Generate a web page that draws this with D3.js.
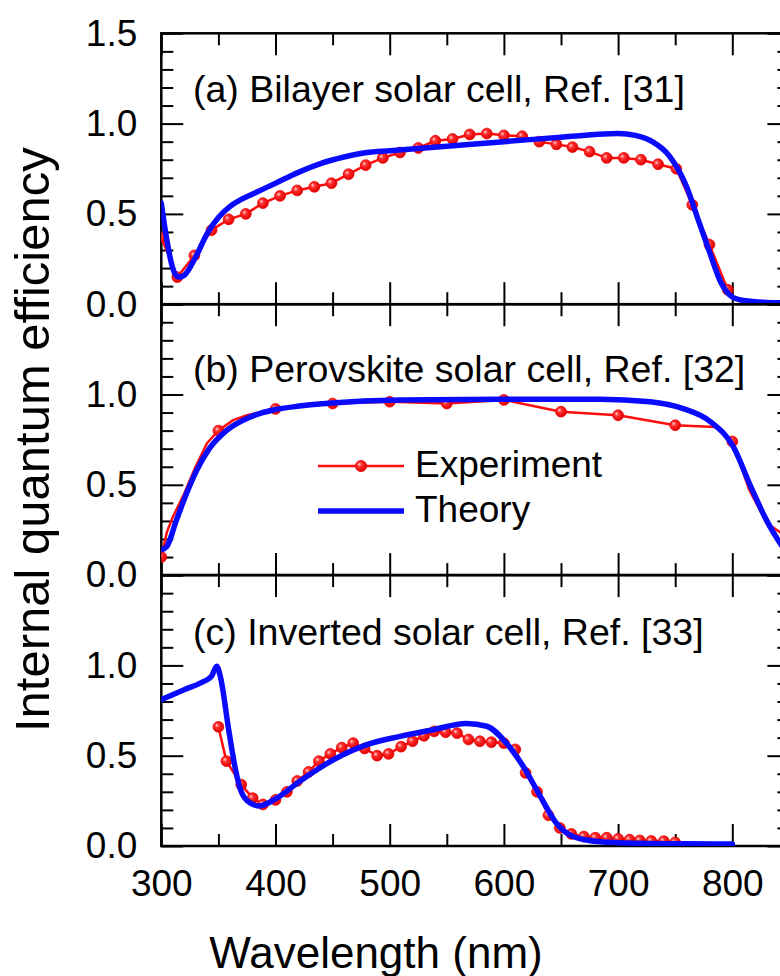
<!DOCTYPE html>
<html><head><meta charset="utf-8">
<script src="https://cdn.jsdelivr.net/npm/d3@7"></script>
<style>html,body{margin:0;padding:0;background:#fff;} svg{display:block;}</style>
</head><body>
<svg id="chart" width="780" height="976"></svg>
<script>
// ---------- data ----------
const xTickValues = [300, 400, 500, 600, 700, 800];
const xMinorValues = [350, 450, 550, 650, 750, 850];
const yTickValues = [0, 0.5, 1.0, 1.5];
const panelLabels = ["(a) Bilayer solar cell, Ref. [31]", "(b) Perovskite solar cell, Ref. [32]", "(c) Inverted solar cell, Ref. [33]"];
const legendLabels = ["Experiment", "Theory"];
const xTitle = "Wavelength (nm)";
const yTitle = "Internal quantum efficiency";

// Panel (a)
const theoryA_wl  = [300,305,310,315,320,330,340,350,360,370,380,400,420,440,460,480,500,550,600,650,680,700,715,730,745,760,770,780,790,800,810,830,850];
const theoryA_iqe = [0.56,0.35,0.20,0.15,0.16,0.26,0.39,0.48,0.54,0.58,0.61,0.67,0.73,0.78,0.815,0.84,0.85,0.875,0.90,0.925,0.94,0.945,0.935,0.90,0.82,0.65,0.47,0.29,0.12,0.04,0.02,0.01,0.008];
const expA_wl  = [300,314,329,344,359,374,389,404,419,434,449,464,479,494,509,525,540,555,570,585,600,616,631,646,660,675,690,705,720,735,751,765,780,796];
const expA_iqe = [0.37,0.15,0.27,0.41,0.47,0.50,0.56,0.60,0.63,0.65,0.67,0.72,0.77,0.81,0.84,0.865,0.905,0.915,0.94,0.945,0.935,0.93,0.90,0.885,0.87,0.845,0.81,0.81,0.80,0.775,0.75,0.55,0.33,0.08];

// Panel (b)
const theoryB_wl  = [300,305,313,322,331,342,357,378,398,421,450,509,596,684,728,757,781,801,815,830,850];
const theoryB_iqe = [0.14,0.16,0.30,0.45,0.58,0.70,0.80,0.876,0.914,0.936,0.953,0.969,0.974,0.974,0.96,0.922,0.849,0.71,0.507,0.303,0.10];
const expB_wl  = [300,305,310,320,330,340,350,363,375,400,450,500,550,600,650,700,750,785,800,815,830,850];
const expB_iqe = [0.10,0.24,0.32,0.45,0.60,0.73,0.80,0.858,0.885,0.92,0.95,0.96,0.95,0.97,0.905,0.885,0.83,0.82,0.74,0.47,0.29,0.20];
const expB_markers = [300,350,400,450,500,550,600,650,700,750,800,850];

// Panel (c)
const theoryC_wl  = [300,320,335,344,348.5,352,359,365,370,378,386,401,421,451,480,509,538,567,585,602,617,632,646,661,684,720,760,800];
const theoryC_iqe = [0.81,0.865,0.905,0.94,0.995,0.93,0.644,0.422,0.30,0.237,0.222,0.265,0.357,0.478,0.561,0.607,0.644,0.678,0.663,0.571,0.44,0.274,0.126,0.052,0.024,0.015,0.012,0.011];
const expC_wl  = [350,357,370,380,389,400,410,419,429,438,448,458,468,478,489,499,510,520,530,539,549,559,569,579,589,600,610,619,629,639,649,659,670,680,690,700,710,719,729,740,750];
const expC_iqe = [0.66,0.47,0.34,0.265,0.23,0.255,0.30,0.36,0.41,0.47,0.51,0.545,0.57,0.54,0.50,0.51,0.55,0.58,0.61,0.635,0.63,0.625,0.59,0.58,0.575,0.57,0.535,0.405,0.30,0.17,0.10,0.067,0.052,0.046,0.046,0.04,0.035,0.031,0.028,0.027,0.02];

(function () {
// ---------- layout ----------
const svg = d3.select("#chart");
const FONT = "'Liberation Sans', Arial, sans-serif";
const leftX = 161.3, rightX = 789.4, topY = 33.3, panelH = 270.9;
const RED = "#ff0d0d", BLUE = "#0a0aff";

const x = d3.scaleLinear().domain([300, 850]).range([leftX, rightX]);

const defs = svg.append("defs");
const grad = defs.append("radialGradient").attr("id", "ball").attr("cx", "40%").attr("cy", "40%").attr("r", "60%").attr("fx", "35%").attr("fy", "35%");
grad.append("stop").attr("offset", "0%").attr("stop-color", "#ffd0d0");
grad.append("stop").attr("offset", "35%").attr("stop-color", "#ff3030");
grad.append("stop").attr("offset", "100%").attr("stop-color", "#e00000");

const panels = [
  {tw: theoryA_wl, tv: theoryA_iqe, ew: expA_wl, ev: expA_iqe, mk: null, label: panelLabels[0], labelY: 68.5, yTicks: [0, 0.5, 1.0, 1.5]},
  {tw: theoryB_wl, tv: theoryB_iqe, ew: expB_wl, ev: expB_iqe, mk: expB_markers, label: panelLabels[1], labelY: 77.5, yTicks: [0, 0.5, 1.0]},
  {tw: theoryC_wl, tv: theoryC_iqe, ew: expC_wl, ev: expC_iqe, mk: null, label: panelLabels[2], labelY: 70, yTicks: [0, 0.5, 1.0]}
];

const yMinorAll = d3.range(0, 15.1, 1).map(v => +(v / 10).toFixed(2));

panels.forEach((p, i) => {
  const y0 = topY + i * panelH, y1 = y0 + panelH;
  const y = d3.scaleLinear().domain([0, 1.5]).range([y1, y0]);
  const g = svg.append("g");

  defs.append("clipPath").attr("id", "clip" + i).append("rect")
    .attr("x", leftX).attr("y", y0).attr("width", rightX - leftX).attr("height", panelH);

  const mkAxis = (axis, tx, ty, values, size, labels) => {
    const a = g.append("g").attr("transform", `translate(${tx},${ty})`)
      .call(axis.tickValues(values).tickSizeInner(-size).tickSizeOuter(0).tickPadding(labels ? 24 : 0)
        .tickFormat(labels ? labels : () => ""));
    a.select(".domain").remove();
    a.selectAll(".tick line").attr("stroke", "#000").attr("stroke-width", 2);
    a.selectAll("text").attr("font-family", FONT).attr("font-size", 37).attr("fill", "#000");
    return a;
  };
  const fmtY = d => p.yTicks.includes(d) ? d3.format(".1f")(d) : "";
  const yMajors = yTickValues;
  const yMinors = yMinorAll.filter(v => !yMajors.some(m => Math.abs(m - v) < 1e-6));
  mkAxis(d3.axisLeft(y), leftX, 0, yMajors, 22, fmtY);
  mkAxis(d3.axisLeft(y), leftX, 0, yMinors, 12, null);
  mkAxis(d3.axisRight(y), rightX, 0, yMajors, 22, null);
  mkAxis(d3.axisRight(y), rightX, 0, yMinors, 12, null);
  mkAxis(d3.axisTop(x), 0, y0, xTickValues, 22, null);
  mkAxis(d3.axisTop(x), 0, y0, xMinorValues, 12, null);
  mkAxis(d3.axisBottom(x), 0, y1, xTickValues, 22, i === 2 ? (d => d) : null);
  mkAxis(d3.axisBottom(x), 0, y1, xMinorValues, 12, null);

  g.append("rect").attr("x", leftX).attr("y", y0).attr("width", rightX - leftX).attr("height", panelH)
    .attr("fill", "none").attr("stroke", "#000").attr("stroke-width", 2.5);

  const plot = g.append("g").attr("clip-path", `url(#clip${i})`);
  const expPts = p.ew.map((w, k) => [w, p.ev[k]]);
  plot.append("path").datum(expPts)
    .attr("d", d3.line().x(d => x(d[0])).y(d => y(d[1])))
    .attr("fill", "none").attr("stroke", RED).attr("stroke-width", 2.5).attr("stroke-linejoin", "round");
  const mPts = p.mk ? expPts.filter(d => p.mk.includes(d[0])) : expPts;
  plot.selectAll("circle.exp").data(mPts).join("circle").attr("class", "exp")
    .attr("cx", d => x(d[0])).attr("cy", d => y(d[1])).attr("r", 5.4)
    .attr("fill", "url(#ball)").attr("stroke", "#ee0000").attr("stroke-width", 0.8);
  const thPts = p.tw.map((w, k) => [w, p.tv[k]]);
  plot.append("path").datum(thPts)
    .attr("d", d3.line().curve(d3.curveMonotoneX).x(d => x(d[0])).y(d => y(d[1])))
    .attr("fill", "none").attr("stroke", BLUE).attr("stroke-width", 5.5).attr("stroke-linejoin", "round").attr("stroke-linecap", "round");

  g.append("text").attr("x", 193).attr("y", y0 + p.labelY).text(p.label)
    .attr("font-family", FONT).attr("font-size", 37.5).attr("fill", "#000");

  if (i === 1) {
    const ly1 = 466, ly2 = 511;
    g.append("line").attr("x1", 318).attr("x2", 404).attr("y1", ly1).attr("y2", ly1).attr("stroke", RED).attr("stroke-width", 2.5);
    g.append("circle").attr("cx", 361).attr("cy", ly1).attr("r", 5.6).attr("fill", "url(#ball)").attr("stroke", "#ee0000").attr("stroke-width", 0.8);
    g.append("line").attr("x1", 318).attr("x2", 404).attr("y1", ly2).attr("y2", ly2).attr("stroke", BLUE).attr("stroke-width", 5.5);
    g.append("text").attr("x", 415).attr("y", 477).text(legendLabels[0]).attr("font-family", FONT).attr("font-size", 37).attr("fill", "#000");
    g.append("text").attr("x", 415).attr("y", 522).text(legendLabels[1]).attr("font-family", FONT).attr("font-size", 37).attr("fill", "#000");
  }
});

svg.append("text").attr("x", 376).attr("y", 968).attr("text-anchor", "middle").text(xTitle)
  .attr("font-family", FONT).attr("font-size", 44).attr("fill", "#000");
svg.append("text").attr("transform", `translate(49,${topY + 1.5 * panelH}) rotate(-90)`).attr("text-anchor", "middle").text(yTitle)
  .attr("font-family", FONT).attr("font-size", 49).attr("fill", "#000");
})();
</script>
</body></html>
